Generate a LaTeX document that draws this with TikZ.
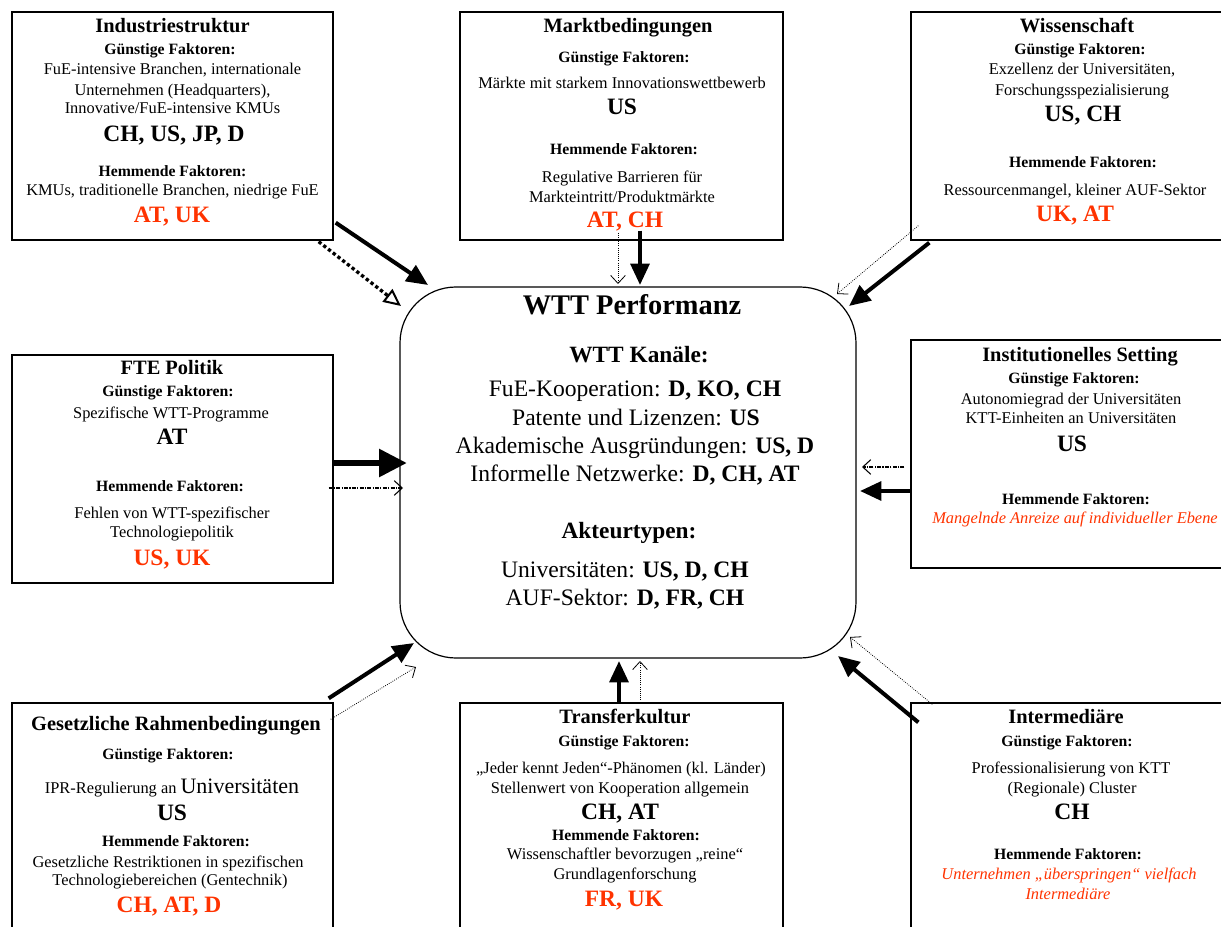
\documentclass[tikz,border=0pt]{standalone}
\usepackage{fontspec}
\setmainfont{Liberation Serif}
\usetikzlibrary{arrows.meta,calc}
\definecolor{hemmrot}{RGB}{255,51,0}
\tikzset{
  fbox/.style={draw,line width=1pt,inner sep=0pt,minimum height=171pt},
  ln/.style={anchor=base,inner sep=0pt},
  titel/.style={ln,font=\fontsize{15.3}{18}\selectfont\bfseries},
  kopf/.style={ln,font=\fontsize{11.8}{14}\selectfont\bfseries},
  txt/.style={ln,font=\fontsize{12.3}{15}\selectfont},
  txtrot/.style={ln,text=hemmrot,font=\fontsize{12.3}{15}\selectfont\itshape},
  land/.style={ln,font=\fontsize{17.6}{21}\selectfont\bfseries},
  landrot/.style={land,text=hemmrot},
  ptitel/.style={ln,font=\fontsize{21.3}{25}\selectfont\bfseries},
  pkopf/.style={ln,font=\fontsize{17.5}{21}\selectfont\bfseries},
  ptxt/.style={ln,font=\fontsize{17.7}{21}\selectfont},
  stark/.style={line width=3pt,-{Triangle[length=16pt,width=14pt]}},
  sehrstark/.style={line width=5pt,-{Triangle[length=21pt,width=20pt]}},
  schwach/.style={line width=0.6pt,densely dotted,-{Straight Barb[length=6pt,width=11pt]}},
  strichpunkt/.style={line width=0.8pt,densely dash dot,-{Straight Barb[length=6pt,width=11pt]}},
  punktiert/.style={line width=2.5pt,dotted,-{Triangle[open,length=13pt,width=12pt,line width=1.5pt]}}
}

\begin{document}
\begin{tikzpicture}[x=0.75pt,y=-0.75pt]
\useasboundingbox (0,0) rectangle (1221,927);
\node[fbox,minimum width=240.75pt] (ind) at (172.5,126) {};
\node[fbox,minimum width=242.25pt] (mkt) at (621.5,126) {};
\node[fbox,minimum width=246.75pt] (wis) at (1075.5,126) {};
\node[fbox,minimum width=240.75pt] (fte) at (172.5,469) {};
\node[fbox,minimum width=254.25pt] (inst) at (1080.5,454) {};
\node[fbox,minimum width=240.75pt] (ges) at (172.5,817) {};
\node[fbox,minimum width=242.25pt] (tk) at (621.5,817) {};
\node[fbox,minimum width=239.25pt] (im) at (1070.5,817) {};
\node[draw,line width=0.9pt,rounded corners=42pt,minimum width=342pt,minimum height=278.25pt] (perf) at (628,472.5) {};

\node[titel] (ind-t) at (172.5,33) {Industriestruktur};
\node[kopf] (ind-g) at (170,55) {Günstige Faktoren:};
\node[txt] (ind-1) at (172.5,75) {FuE-intensive Branchen, internationale};
\node[txt] (ind-2) at (172.5,96) {Unternehmen (Headquarters),};
\node[txt] (ind-3) at (172.5,114) {Innovative/FuE-intensive KMUs};
\node[land] (ind-l) at (174,142) {CH, US, JP, D};
\node[kopf] (ind-h) at (172.5,177) {Hemmende Faktoren:};
\node[txt] (ind-4) at (172.5,196) {KMUs, traditionelle Branchen, niedrige FuE};
\node[landrot] (ind-r) at (172,223) {AT, UK};

\node[titel] (mkt-t) at (628,33) {Marktbedingungen};
\node[kopf] (mkt-g) at (624,63) {Günstige Faktoren:};
\node[txt] (mkt-1) at (622,89) {Märkte mit starkem Innovationswettbewerb};
\node[land] (mkt-l) at (622,115) {US};
\node[kopf] (mkt-h) at (624,155) {Hemmende Faktoren:};
\node[txt] (mkt-2) at (622,183) {Regulative Barrieren für};
\node[txt] (mkt-3) at (622,203) {Markteintritt/Produktmärkte};
\node[landrot] (mkt-r) at (625,228) {AT, CH};

\node[titel] (wis-t) at (1077,33) {Wissenschaft};
\node[kopf] (wis-g) at (1080,55) {Günstige Faktoren:};
\node[txt] (wis-1) at (1082,75) {Exzellenz der Universitäten,};
\node[txt] (wis-2) at (1082,96) {Forschungsspezialisierung};
\node[land] (wis-l) at (1083,122) {US, CH};
\node[kopf] (wis-h) at (1083,168) {Hemmende Faktoren:};
\node[txt] (wis-3) at (1075,196) {Ressourcenmangel, kleiner AUF-Sektor};
\node[landrot] (wis-r) at (1075,222) {UK, AT};

\node[titel] (fte-t) at (172,374) {FTE Politik};
\node[kopf] (fte-g) at (168,397) {Günstige Faktoren:};
\node[txt] (fte-1) at (171,418) {Spezifische WTT-Programme};
\node[land] (fte-l) at (172,444) {AT};
\node[kopf] (fte-h) at (170,491) {Hemmende Faktoren:};
\node[txt] (fte-2) at (172,518) {Fehlen von WTT-spezifischer};
\node[txt] (fte-3) at (172,537) {Technologiepolitik};
\node[landrot] (fte-r) at (172,565) {US, UK};

\node[titel] (inst-t) at (1080,361) {Institutionelles Setting};
\node[kopf] (inst-g) at (1074,383) {Günstige Faktoren:};
\node[txt] (inst-1) at (1071,404) {Autonomiegrad der Universitäten};
\node[txt] (inst-2) at (1071,423) {KTT-Einheiten an Universitäten};
\node[land] (inst-l) at (1072,451) {US};
\node[kopf] (inst-h) at (1076,504) {Hemmende Faktoren:};
\node[txtrot] (inst-r) at (1075,523) {Mangelnde Anreize auf individueller Ebene};

\node[titel] (ges-t) at (176,730) {Gesetzliche Rahmenbedingungen};
\node[kopf] (ges-g) at (168,759) {Günstige Faktoren:};
\node[txt] (ges-1) at (172,793) {IPR-Regulierung an {\fontsize{16.5}{19}\selectfont Universitäten}};
\node[land] (ges-l) at (172,820) {US};
\node[kopf] (ges-h) at (176,846) {Hemmende Faktoren:};
\node[txt] (ges-2) at (168,867) {Gesetzliche Restriktionen in spezifischen};
\node[txt] (ges-3) at (170,885) {Technologiebereichen (Gentechnik)};
\node[landrot] (ges-r) at (169,912) {CH, AT, D};

\node[titel] (tk-t) at (625,723) {Transferkultur};
\node[kopf] (tk-g) at (624,746) {Günstige Faktoren:};
\node[txt] (tk-1) at (621,773) {„Jeder kennt Jeden“-Phänomen (kl. Länder)};
\node[txt] (tk-2) at (620,793) {Stellenwert von Kooperation allgemein};
\node[land] (tk-l) at (620,819) {CH, AT};
\node[kopf] (tk-h) at (626,840) {Hemmende Faktoren:};
\node[txt] (tk-3) at (625,859) {Wissenschaftler bevorzugen „reine“};
\node[txt] (tk-4) at (625,879) {Grundlagenforschung};
\node[landrot] (tk-r) at (624,906) {FR, UK};

\node[titel] (im-t) at (1066,723) {Intermediäre};
\node[kopf] (im-g) at (1067,746) {Günstige Faktoren:};
\node[txt] (im-1) at (1071,773) {Professionalisierung von KTT};
\node[txt] (im-2) at (1072,793) {(Regionale) Cluster};
\node[land] (im-l) at (1072,819) {CH};
\node[kopf] (im-h) at (1068,859) {Hemmende Faktoren:};
\node[txtrot] (im-r1) at (1069,879) {Unternehmen „überspringen“ vielfach};
\node[txtrot] (im-r2) at (1068,899) {Intermediäre};

\node[ptitel] (perf-t) at (632,315) {WTT Performanz};
\node[pkopf] (perf-k) at (639,363) {WTT Kanäle:};
\node[ptxt] (perf-1) at (635,397) {FuE-Kooperation: \textbf{D, KO, CH}};
\node[ptxt] (perf-2) at (636,425) {Patente und Lizenzen: \textbf{US}};
\node[ptxt] (perf-3) at (635,453) {Akademische Ausgründungen: \textbf{US, D}};
\node[ptxt] (perf-4) at (635,481) {Informelle Netzwerke: \textbf{D, CH, AT}};
\node[pkopf] (perf-a) at (629,538) {Akteurtypen:};
\node[ptxt] (perf-5) at (625,577) {Universitäten: \textbf{US, D, CH}};
\node[ptxt] (perf-6) at (625,605) {AUF-Sektor: \textbf{D, FR, CH}};

\coordinate (e-ind1) at (428,285);
\coordinate (e-ind2) at (401,306);
\coordinate (e-mkt1) at (618,284);
\coordinate (e-mkt2) at (640,285);
\coordinate (e-wis1) at (837,294);
\coordinate (e-wis2) at (849,306);
\coordinate (e-fte1) at (407,463);
\coordinate (e-fte2) at (403,488);
\coordinate (e-inst1) at (862,467);
\coordinate (e-inst2) at (860,491);
\coordinate (e-ges1) at (414,643);
\coordinate (e-ges2) at (416,667);
\coordinate (e-tk1) at (619,661);
\coordinate (e-tk2) at (640,661);
\coordinate (e-im1) at (838,656);
\coordinate (e-im2) at (850,637);

\draw[stark] ($(ind.south east)+(2,-18)$) -- (e-ind1);
\draw[punktiert] ($(ind.south east)+(-15,1)$) -- (e-ind2);
\draw[schwach] ($(mkt.south)+(-3.5,-8)$) -- (e-mkt1);
\draw[stark] ($(mkt.south)+(18.5,-10)$) -- (e-mkt2);
\draw[schwach] ($(wis.south west)+(8,-15)$) -- (e-wis1);
\draw[stark] ($(wis.south west)+(19,2)$) -- (e-wis2);
\draw[sehrstark] ($(fte.east)+(0,-6)$) -- (e-fte1);
\draw[strichpunkt] ($(fte.east)+(-5,19)$) -- (e-fte2);
\draw[strichpunkt] ($(inst.west)+(-6,13)$) -- (e-inst1);
\draw[stark] ($(inst.west)+(0,37)$) -- (e-inst2);
\draw[stark] ($(ges.north east)+(-5,-4)$) -- (e-ges1);
\draw[schwach] ($(ges.north east)+(-3,17)$) -- (e-ges2);
\draw[stark] ($(tk.north)+(-2.5,0)$) -- (e-tk1);
\draw[schwach] ($(tk.north)+(18.5,0)$) -- (e-tk2);
\draw[stark] ($(im.north west)+(8,20)$) -- (e-im1);
\draw[schwach] ($(im.north west)+(22,2)$) -- (e-im2);
\end{tikzpicture}
\end{document}
